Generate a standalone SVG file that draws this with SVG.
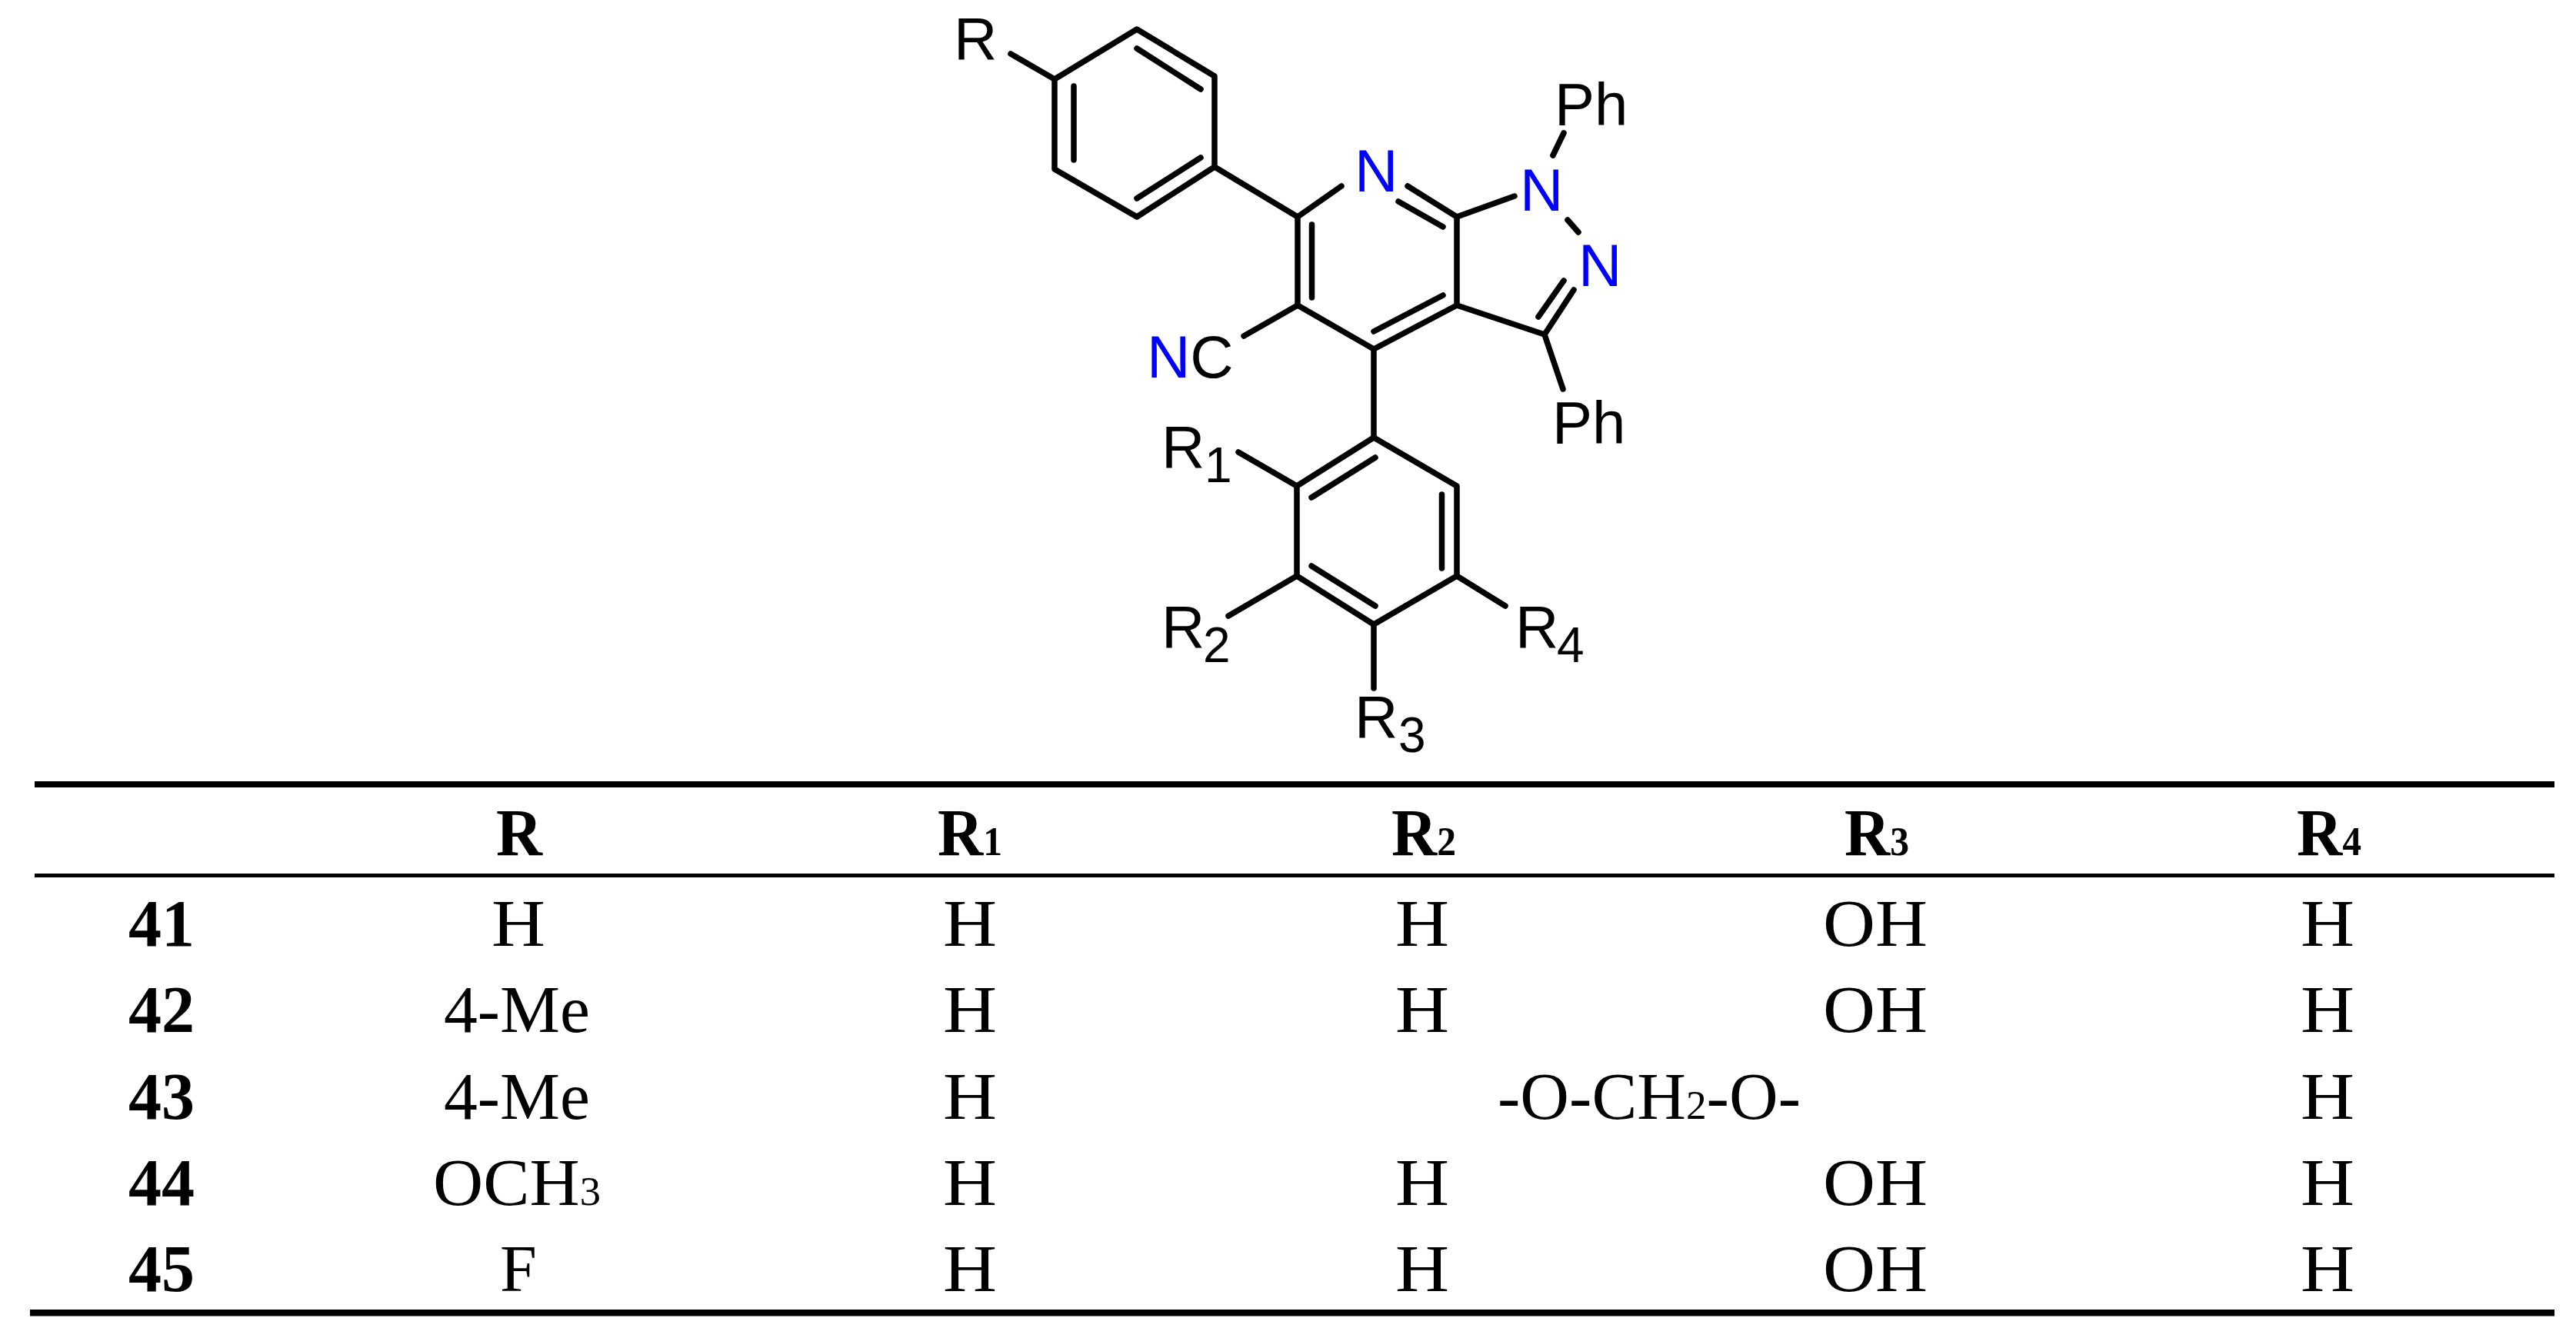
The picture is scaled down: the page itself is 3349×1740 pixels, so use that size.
<svg xmlns="http://www.w3.org/2000/svg" width="3349" height="1740" viewBox="0 0 3349 1740">
<style>
.b{fill:none;stroke:#000;stroke-width:7.500;stroke-linecap:round;stroke-linejoin:round}
.a{font-family:"Liberation Sans",Arial,sans-serif;font-size:78px;fill:#000}
.n{fill:#0000ff}
.s{font-size:64px}
.t{font-family:"Liberation Serif","Times New Roman",serif;font-size:86px;fill:#000;text-anchor:middle}
.h{font-weight:bold}
.u{font-size:52px}
.r{fill:#000}
</style>
<rect width="3349" height="1740" fill="#fff"/>
<g id="bonds" class="b">
<path d="M1478 38L1579 99V217L1478 282L1371 220V103Z"/>
<path d="M1478 63L1561 116M1561 205L1478 258M1396 112V208"/>
<path d="M1314 70L1371 103"/>
<path d="M1579 217L1687 282"/>
<path d="M1744 242L1687 282V397L1786 454L1894 397V282L1830 242"/>
<path d="M1818 262L1876 295M1876 384L1786 431M1705.500 292V387"/>
<path d="M1894 282L1969 255M2019 202L2033 173M2038 286L2052 302"/>
<path d="M1894 397L2008 435L2046 377M2033 365L2000 412M2008 435L2032 506"/>
<path d="M1687 397L1617 437"/>
<path d="M1786 454V569"/>
<path d="M1786 569L1894 632V749L1786 812L1686 749V632Z"/>
<path d="M1788 595L1705 647M1705 736L1788 788M1874.500 643V739"/>
<path d="M1686 632L1610 588M1686 749L1597 801M1786 812V895M1894 749L1957 788"/>
</g>
<g id="label-R"><text class="a" x="1240" y="77">R</text></g>
<g id="label-N7"><text class="a n" x="1761" y="249">N</text></g>
<g id="label-N1"><text class="a n" x="1976" y="274">N</text></g>
<g id="label-N2"><text class="a n" x="2052" y="372">N</text></g>
<g id="label-Ph1"><text class="a" x="2021" y="163">Ph</text></g>
<g id="label-Ph2"><text class="a" x="2018" y="577">Ph</text></g>
<g id="label-CN"><text class="a" x="1491" y="491"><tspan class="n">N</tspan>C</text></g>
<g id="label-R1"><text class="a" x="1510" y="608">R</text><text class="a s" x="1566" y="627">1</text></g>
<g id="label-R2"><text class="a" x="1510" y="842">R</text><text class="a s" x="1564" y="861">2</text></g>
<g id="label-R3"><text class="a" x="1761" y="959">R</text><text class="a s" x="1818" y="978">3</text></g>
<g id="label-R4"><text class="a" x="1970" y="842">R</text><text class="a s" x="2024" y="861">4</text></g>
<g id="table-rules">
<rect class="r" x="45" y="1016" width="3276" height="8"/>
<rect class="r" x="45" y="1136" width="3276" height="5"/>
<rect class="r" x="39" y="1703" width="3282" height="8.500"/>
</g>
<g id="table-header">
<text class="t h" x="675" y="1112" textLength="60" lengthAdjust="spacingAndGlyphs">R</text>
<text class="t h" x="1261" y="1112" textLength="84" lengthAdjust="spacingAndGlyphs">R<tspan class="u">1</tspan></text>
<text class="t h" x="1851" y="1112" textLength="84" lengthAdjust="spacingAndGlyphs">R<tspan class="u">2</tspan></text>
<text class="t h" x="2440" y="1112" textLength="84" lengthAdjust="spacingAndGlyphs">R<tspan class="u">3</tspan></text>
<text class="t h" x="3028" y="1112" textLength="84" lengthAdjust="spacingAndGlyphs">R<tspan class="u">4</tspan></text>
</g>
<g id="row-41">
<text class="t h" x="210" y="1230">41</text>
<text class="t" x="674" y="1230" textLength="70" lengthAdjust="spacingAndGlyphs">H</text>
<text class="t" x="1261" y="1230" textLength="70" lengthAdjust="spacingAndGlyphs">H</text>
<text class="t" x="1849" y="1230" textLength="70" lengthAdjust="spacingAndGlyphs">H</text>
<text class="t" x="2438" y="1230" textLength="136" lengthAdjust="spacingAndGlyphs">OH</text>
<text class="t" x="3026" y="1230" textLength="70" lengthAdjust="spacingAndGlyphs">H</text>
</g>
<g id="row-42">
<text class="t h" x="210" y="1342">42</text>
<text class="t" x="672" y="1342" textLength="190" lengthAdjust="spacingAndGlyphs">4-Me</text>
<text class="t" x="1261" y="1342" textLength="70" lengthAdjust="spacingAndGlyphs">H</text>
<text class="t" x="1849" y="1342" textLength="70" lengthAdjust="spacingAndGlyphs">H</text>
<text class="t" x="2438" y="1342" textLength="136" lengthAdjust="spacingAndGlyphs">OH</text>
<text class="t" x="3026" y="1342" textLength="70" lengthAdjust="spacingAndGlyphs">H</text>
</g>
<g id="row-43">
<text class="t h" x="210" y="1455">43</text>
<text class="t" x="672" y="1455" textLength="190" lengthAdjust="spacingAndGlyphs">4-Me</text>
<text class="t" x="1261" y="1455" textLength="70" lengthAdjust="spacingAndGlyphs">H</text>
<text class="t" x="2144" y="1455" textLength="394" lengthAdjust="spacingAndGlyphs">-O-CH<tspan class="u">2</tspan>-O-</text>
<text class="t" x="3026" y="1455" textLength="70" lengthAdjust="spacingAndGlyphs">H</text>
</g>
<g id="row-44">
<text class="t h" x="210" y="1567">44</text>
<text class="t" x="672" y="1567" textLength="218" lengthAdjust="spacingAndGlyphs">OCH<tspan class="u">3</tspan></text>
<text class="t" x="1261" y="1567" textLength="70" lengthAdjust="spacingAndGlyphs">H</text>
<text class="t" x="1849" y="1567" textLength="70" lengthAdjust="spacingAndGlyphs">H</text>
<text class="t" x="2438" y="1567" textLength="136" lengthAdjust="spacingAndGlyphs">OH</text>
<text class="t" x="3026" y="1567" textLength="70" lengthAdjust="spacingAndGlyphs">H</text>
</g>
<g id="row-45">
<text class="t h" x="210" y="1679">45</text>
<text class="t" x="674" y="1679">F</text>
<text class="t" x="1261" y="1679" textLength="70" lengthAdjust="spacingAndGlyphs">H</text>
<text class="t" x="1849" y="1679" textLength="70" lengthAdjust="spacingAndGlyphs">H</text>
<text class="t" x="2438" y="1679" textLength="136" lengthAdjust="spacingAndGlyphs">OH</text>
<text class="t" x="3026" y="1679" textLength="70" lengthAdjust="spacingAndGlyphs">H</text>
</g>
</svg>
